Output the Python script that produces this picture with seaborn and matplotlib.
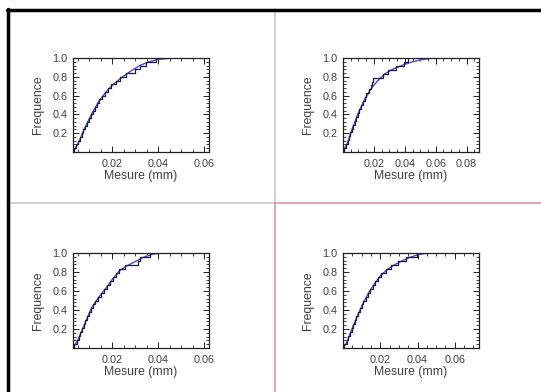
import numpy as np
import pandas as pd
import matplotlib
matplotlib.use("Agg")
import matplotlib.pyplot as plt
from matplotlib.ticker import AutoMinorLocator, FixedLocator
from matplotlib.lines import Line2D
import seaborn as sns

# ---- data ----
# empirical measurements (mm) per panel
meas_1 = [0.0035, 0.0045, 0.0052, 0.0061, 0.0069, 0.0075, 0.0082, 0.0090, 0.0098, 0.0106,
          0.0115, 0.0124, 0.0133, 0.0143, 0.0155, 0.0167, 0.0181, 0.0196, 0.0215, 0.0235,
          0.0262, 0.0300, 0.0322, 0.0345, 0.0392]
meas_2 = [0.0006, 0.0019, 0.0031, 0.0039, 0.0048, 0.0056, 0.0065, 0.0075, 0.0084, 0.0094,
          0.0105, 0.0117, 0.0129, 0.0141, 0.0152, 0.0165, 0.0178, 0.0190, 0.0195, 0.0259,
          0.0294, 0.0344, 0.0395, 0.0420]
meas_3 = [0.0035, 0.0046, 0.0054, 0.0062, 0.0069, 0.0076, 0.0084, 0.0091, 0.0098, 0.0106,
          0.0115, 0.0126, 0.0138, 0.0151, 0.0164, 0.0178, 0.0190, 0.0203, 0.0217, 0.0231,
          0.0256, 0.0310, 0.0322, 0.0365]
meas_4 = [0.0007, 0.0021, 0.0029, 0.0037, 0.0046, 0.0054, 0.0063, 0.0072, 0.0081, 0.0091,
          0.0101, 0.0110, 0.0121, 0.0133, 0.0145, 0.0159, 0.0173, 0.0188, 0.0206, 0.0230,
          0.0259, 0.0296, 0.0340, 0.0398]

# fitted cumulative curves (x in mm, cumulative frequency)
fit_x_1 = [0.003, 0.005, 0.008, 0.011, 0.014, 0.017, 0.020, 0.024, 0.028, 0.032, 0.036, 0.040, 0.045, 0.050, 0.062]
fit_y_1 = [0.0, 0.08, 0.25, 0.40, 0.53, 0.63, 0.71, 0.79, 0.86, 0.92, 0.96, 0.985, 0.997, 1.0, 1.0]
fit_x_2 = [0.0, 0.003, 0.006, 0.010, 0.014, 0.018, 0.022, 0.027, 0.032, 0.038, 0.044, 0.050, 0.056, 0.062, 0.088]
fit_y_2 = [0.0, 0.10, 0.25, 0.42, 0.56, 0.67, 0.75, 0.83, 0.88, 0.92, 0.955, 0.98, 0.995, 1.0, 1.0]
fit_x_3 = [0.003, 0.005, 0.008, 0.011, 0.014, 0.017, 0.020, 0.023, 0.026, 0.030, 0.034, 0.038, 0.042, 0.062]
fit_y_3 = [0.0, 0.08, 0.25, 0.42, 0.53, 0.62, 0.72, 0.81, 0.86, 0.91, 0.96, 0.99, 1.0, 1.0]
fit_x_4 = [0.0, 0.002, 0.005, 0.008, 0.011, 0.014, 0.017, 0.020, 0.024, 0.028, 0.032, 0.036, 0.040, 0.044, 0.048, 0.073]
fit_y_4 = [0.0, 0.06, 0.21, 0.35, 0.48, 0.59, 0.68, 0.76, 0.83, 0.88, 0.92, 0.955, 0.98, 0.995, 1.0, 1.0]

x_ticks_1 = [0.02, 0.04, 0.06]
x_ticks_2 = [0.02, 0.04, 0.06, 0.08]
x_ticks_3 = [0.02, 0.04, 0.06]
x_ticks_4 = [0.02, 0.04, 0.06]
y_ticks = [0.2, 0.4, 0.6, 0.8, 1.0]

x_label = "Mesure (mm)"
y_label = "Frequence"

# ---- style ----
sns.set_style("ticks")
plt.rcParams["font.family"] = ["Liberation Sans", "DejaVu Sans"]
plt.rcParams["font.size"] = 7

fig = plt.figure(figsize=(5.41, 3.92), dpi=100)
W, H = 541.0, 392.0

def px_axes(left, top, right, bottom):
    return fig.add_axes([left / W, 1 - bottom / H, (right - left) / W, (bottom - top) / H])

panels = [
    (meas_1, fit_x_1, fit_y_1, x_ticks_1, (0.003, 0.062), (73, 58, 209, 152)),
    (meas_2, fit_x_2, fit_y_2, x_ticks_2, (0.0, 0.088), (343, 58, 479, 152)),
    (meas_3, fit_x_3, fit_y_3, x_ticks_3, (0.003, 0.062), (73, 253, 209, 348)),
    (meas_4, fit_x_4, fit_y_4, x_ticks_4, (0.0, 0.073), (343, 253, 479, 348)),
]

text_col = "#404040"
emp_col = "#1c1c3c"
fit_col = "#4a4ad0"

for meas, fx, fy, xt, xl, box in panels:
    ax = px_axes(*box)
    sns.lineplot(x=fx, y=fy, ax=ax, color=fit_col, linewidth=1.0, sort=True)
    sns.ecdfplot(x=meas, ax=ax, color=emp_col, linewidth=0.9)
    ax.set_xlim(*xl)
    ax.set_ylim(0, 1.0)
    ax.xaxis.set_major_locator(FixedLocator(xt))
    ax.yaxis.set_major_locator(FixedLocator(y_ticks))
    ax.set_xticklabels([f"{v:.2f}" for v in xt])
    ax.set_yticklabels([f"{v:.1f}" for v in y_ticks])
    ax.xaxis.set_minor_locator(AutoMinorLocator(4))
    ax.yaxis.set_minor_locator(AutoMinorLocator(5))
    ax.tick_params(which="both", direction="in", top=True, right=True, colors="#202020",
                   labelcolor=text_col, labelsize=7.8)
    ax.tick_params(axis="x", which="major", pad=5)
    ax.tick_params(axis="y", which="major", pad=4)
    ax.tick_params(which="major", length=4, width=0.7)
    ax.tick_params(which="minor", length=2, width=0.6)
    for s in ax.spines.values():
        s.set_visible(True)
        s.set_color("#202020")
        s.set_linewidth(0.9)
    ax.set_xlabel(x_label, color=text_col, fontsize=8.8, labelpad=1)
    ax.set_ylabel(y_label, color=text_col, fontsize=8.8, labelpad=6)

# ---- page frame / dividers ----
def fline(x0, y0, x1, y1, color, lw):
    fig.add_artist(Line2D([x0 / W, x1 / W], [1 - y0 / H, 1 - y1 / H], color=color, linewidth=lw,
                          transform=fig.transFigure))

fline(275, 9, 275, 203, "#c8c8c8", 1.2)
fline(7, 203, 275, 203, "#c8c8c8", 1.2)
fline(275, 203, 541, 203, "#d89898", 1.2)
fline(275, 203, 275, 392, "#d89898", 1.2)
fline(7, 9.5, 541, 9.5, "#000000", 2.5)
fline(7.5, 9, 7.5, 392, "#000000", 2.5)

fig.savefig("out.png", dpi=100, facecolor="white")
